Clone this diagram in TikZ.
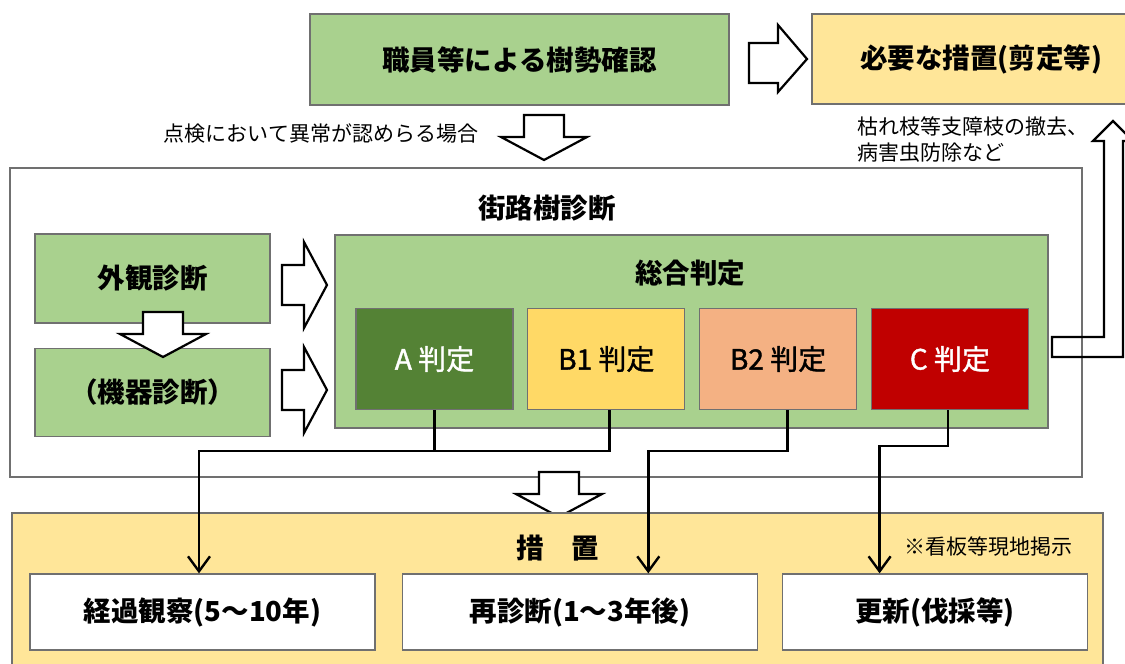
\documentclass[tikz,border=0pt]{standalone}
\usepackage{fontspec}
\setmainfont{Noto Sans CJK JP}
\newfontfamily\gradefont{Noto Sans CJK JP}[FakeBold=1.4]
\usepackage{tikz}
\usetikzlibrary{positioning}
\usetikzlibrary{arrows.meta}

\definecolor{leafgreen}{HTML}{A9D18E}
\definecolor{darkleaf}{HTML}{548235}
\definecolor{paleyellow}{HTML}{FFE699}
\definecolor{gradeyellow}{HTML}{FFD966}
\definecolor{gradeorange}{HTML}{F4B183}
\definecolor{gradered}{HTML}{C00000}
\definecolor{boxgray}{HTML}{707070}

\tikzset{
  box/.style={draw=boxgray, line width=1.3pt, inner sep=0pt,
    font=\bfseries\fontsize{27.5}{32}\selectfont},
  gradebox/.style={box, minimum width=157pt, minimum height=101pt,
    font=\gradefont\fontsize{28}{32}\selectfont},
  plan/.style={box, fill=white, minimum height=76pt},
  notetext/.style={inner sep=0pt, font=\fontsize{21}{26}\selectfont},
  blockarrow/.style={draw=black, line width=2.2pt, fill=white, line join=miter},
  link/.style={line width=2.4pt},
  linkarrow/.style={link, -{Straight Barb[length=15pt,width=22pt,line width=2.4pt]}},
  blockdown/.pic={
    \draw[blockarrow] (-20,-45) -- (20,-45) -- (20,-23) -- (43,-23)
      -- (0,0) -- (-43,-23) -- (-20,-23) -- cycle;
  },
}

\begin{document}
\begin{tikzpicture}[x=1pt, y=-1pt, thick]
    \useasboundingbox (0,0) rectangle (1125,664);

    % routine check
    \node[box, fill=leafgreen, minimum width=419pt, minimum height=91pt]
      (check) at (519.5,59.5) {職員等による樹勢確認};
    \node[box, fill=paleyellow, minimum width=338pt, minimum height=90pt]
      (needed) at (981,59) {必要な措置(剪定等)};
    \draw[blockarrow]
      (749,43) -- ++(29,0) -- ++(0,-18) -- (807,59) -- (778,92) -- ++(0,-9) -- ++(-29,0) -- cycle;
    \pic at (544,160) {blockdown};
    \node[notetext] (found) at (321,134) {点検において異常が認めらる場合};
    \node[notetext, anchor=west, align=left] (pruning) at (857,140)
      {枯れ枝等支障枝の撤去、\\病害虫防除など};

    % street tree diagnosis
    \node[draw=boxgray, line width=1.3pt, fill=white, minimum width=1072pt, minimum height=309pt]
      (diag) at (546,322.5) {};
    \node[font=\bfseries\fontsize{27.5}{32}\selectfont] (diagtitle) at (547,208) {街路樹診断};

    \node[box, fill=leafgreen, minimum width=235pt, minimum height=89pt]
      (visual) at (152.5,278.5) {外観診断};
    \node[box, fill=leafgreen, minimum width=235pt, minimum height=88pt, below=24pt of visual]
      (device) {（機器診断）};
    \pic at (163,357) {blockdown};
    \pic[rotate=90] at (327,285) {blockdown};
    \pic[rotate=90] at (327,390) {blockdown};

    \node[box, fill=leafgreen, minimum width=713pt, minimum height=193pt]
      (overall) at (691.5,331.5) {};
    \node[font=\bfseries\fontsize{27.5}{32}\selectfont] (overalltitle) at (690,273) {総合判定};
    \node[gradebox, fill=darkleaf, text=white] (gradeA) at (434.5,359) {A 判定};
    \node[gradebox, fill=gradeyellow, right=13.5pt of gradeA] (gradeB1) {B1 判定};
    \node[gradebox, fill=gradeorange, right=13.5pt of gradeB1] (gradeB2) {B2 判定};
    \node[gradebox, fill=gradered, text=white, right=13.5pt of gradeB2] (gradeC) {C 判定};

    % back up to the needed measures
    \draw[blockarrow, fill=none]
      (1052,337) -- (1104,337) -- (1104,141) -- (1093,141) -- (1113,121)
      -- (1133,141) -- (1123,141) -- (1123,357) -- (1052,357) -- cycle;

    % measures
    \pic at (559,517) {blockdown};
    \node[draw=boxgray, line width=1.3pt, fill=paleyellow, minimum width=1091pt, minimum height=190pt]
      (measures) at (557.5,608) {};
    \node[font=\bfseries\fontsize{27.5}{32}\selectfont] (measurestitle) at (558,548) {措　置};
    \node[notetext] (signboard) at (988,547) {※看板等現地掲示};

    \node[plan, minimum width=345pt] (observe) at (202.5,612) {経過観察(5～10年)};
    \node[plan, minimum width=355pt, right=26pt of observe] (rediag) {再診断(1～3年後)};
    \node[plan, minimum width=305pt, right=24pt of rediag] (renew) {更新(伐採等)};

    \draw[link] (gradeA.south) -- ++(0,41);
    \draw[linkarrow] ([xshift=3pt]gradeB1.south) -- ++(0,41) -| ([xshift=-3.5pt]observe.north);
    \draw[linkarrow] ([xshift=9.5pt]gradeB2.south) -- ++(0,41) -| ([xshift=68.5pt]rediag.north);
    \draw[linkarrow] ([xshift=-2pt]gradeC.south) -- ++(0,36) -| ([xshift=-55.5pt]renew.north);

  \end{tikzpicture}
\end{document}
